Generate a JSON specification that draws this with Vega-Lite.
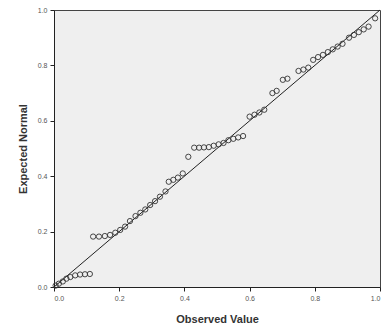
{
  "$schema": "https://vega.github.io/schema/vega-lite/v6.json",
  "autosize": "none",
  "width": 326,
  "height": 277,
  "padding": {"left": 54, "top": 10, "right": 2, "bottom": 40},
  "background": "white",
  "config": {
    "view": {"fill": "#efefef", "stroke": "#444", "strokeWidth": 1},
    "font": "Liberation Sans",
    "axis": {
      "grid": false,
      "domainColor": "#222",
      "tickColor": "#222",
      "tickSize": 4,
      "labelFontSize": 7,
      "labelColor": "#555",
      "titleFontSize": 11,
      "titleFontWeight": "bold",
      "titleColor": "#333"
    }
  },
  "datasets": {
    "pts": [
      {"observed": 0.005, "expected": 0.005},
      {"observed": 0.015, "expected": 0.012},
      {"observed": 0.027, "expected": 0.02},
      {"observed": 0.038, "expected": 0.03},
      {"observed": 0.05, "expected": 0.036},
      {"observed": 0.065, "expected": 0.042},
      {"observed": 0.08, "expected": 0.045},
      {"observed": 0.095, "expected": 0.046},
      {"observed": 0.11, "expected": 0.047},
      {"observed": 0.12, "expected": 0.182},
      {"observed": 0.138, "expected": 0.182},
      {"observed": 0.156, "expected": 0.184},
      {"observed": 0.172, "expected": 0.188},
      {"observed": 0.188, "expected": 0.196},
      {"observed": 0.203, "expected": 0.206},
      {"observed": 0.218, "expected": 0.218},
      {"observed": 0.233, "expected": 0.238},
      {"observed": 0.25, "expected": 0.256},
      {"observed": 0.265, "expected": 0.268},
      {"observed": 0.28, "expected": 0.28},
      {"observed": 0.295, "expected": 0.296},
      {"observed": 0.31, "expected": 0.31},
      {"observed": 0.325, "expected": 0.326},
      {"observed": 0.342, "expected": 0.345},
      {"observed": 0.352, "expected": 0.38},
      {"observed": 0.366, "expected": 0.387},
      {"observed": 0.38, "expected": 0.395},
      {"observed": 0.395, "expected": 0.41},
      {"observed": 0.412, "expected": 0.47},
      {"observed": 0.43, "expected": 0.503},
      {"observed": 0.445, "expected": 0.503},
      {"observed": 0.46, "expected": 0.504},
      {"observed": 0.475, "expected": 0.505},
      {"observed": 0.49, "expected": 0.51},
      {"observed": 0.505, "expected": 0.515},
      {"observed": 0.52, "expected": 0.52},
      {"observed": 0.535, "expected": 0.53},
      {"observed": 0.55, "expected": 0.535},
      {"observed": 0.565, "expected": 0.54},
      {"observed": 0.58, "expected": 0.545},
      {"observed": 0.6, "expected": 0.615},
      {"observed": 0.615, "expected": 0.622},
      {"observed": 0.63, "expected": 0.63},
      {"observed": 0.645, "expected": 0.64},
      {"observed": 0.67, "expected": 0.7},
      {"observed": 0.683, "expected": 0.708},
      {"observed": 0.702, "expected": 0.748},
      {"observed": 0.716, "expected": 0.752},
      {"observed": 0.75, "expected": 0.78},
      {"observed": 0.765, "expected": 0.785},
      {"observed": 0.78, "expected": 0.792},
      {"observed": 0.795, "expected": 0.82},
      {"observed": 0.81, "expected": 0.83},
      {"observed": 0.825, "expected": 0.838},
      {"observed": 0.84, "expected": 0.848},
      {"observed": 0.855, "expected": 0.858},
      {"observed": 0.87, "expected": 0.868},
      {"observed": 0.885, "expected": 0.878},
      {"observed": 0.905, "expected": 0.9},
      {"observed": 0.92, "expected": 0.91},
      {"observed": 0.935, "expected": 0.92},
      {"observed": 0.95, "expected": 0.93},
      {"observed": 0.965, "expected": 0.94},
      {"observed": 0.985, "expected": 0.97}
    ],
    "diag": [
      {"observed": 0, "expected": 0},
      {"observed": 1, "expected": 1}
    ]
  },
  "layer": [
    {
      "data": {"name": "diag"},
      "mark": {"type": "line", "color": "#222", "strokeWidth": 1},
      "encoding": {
        "x": {"field": "observed", "type": "quantitative"},
        "y": {"field": "expected", "type": "quantitative"}
      }
    },
    {
      "data": {"name": "pts"},
      "mark": {"type": "point", "shape": "circle", "filled": false, "stroke": "#333", "strokeWidth": 0.9, "size": 28, "opacity": 1},
      "encoding": {
        "x": {
          "field": "observed", "type": "quantitative",
          "scale": {"domain": [0, 1], "nice": false, "zero": false},
          "axis": {"title": "Observed Value", "values": [0, 0.2, 0.4, 0.6, 0.8, 1.0], "format": ".1f", "titlePadding": 12, "labelPadding": 3}
        },
        "y": {
          "field": "expected", "type": "quantitative",
          "scale": {"domain": [0, 1], "nice": false, "zero": false},
          "axis": {"title": "Expected Normal", "values": [0, 0.2, 0.4, 0.6, 0.8, 1.0], "format": ".1f", "titlePadding": 9, "labelPadding": 3}
        }
      }
    }
  ]
}
